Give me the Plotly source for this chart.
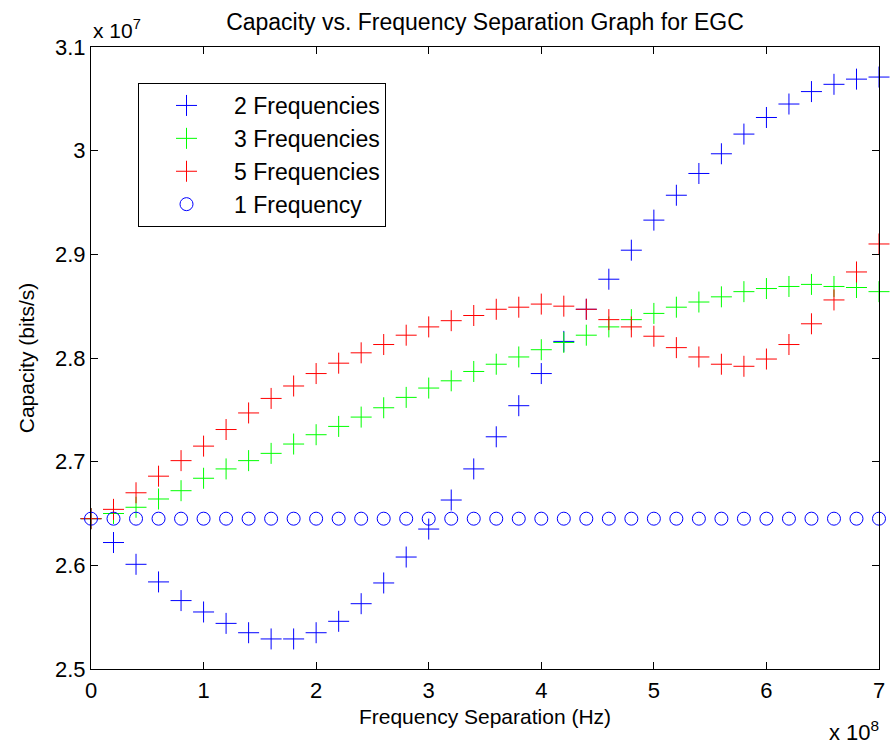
import plotly.graph_objects as go

# Frequency separation, in units of 1e8 Hz
freq_sep = [round(0.2 * i, 1) for i in range(36)]

# Capacity, in units of 1e7 bits/s
cap_2freq = [2.645, 2.622, 2.601, 2.584, 2.566, 2.555, 2.544, 2.535, 2.529, 2.529,
             2.535, 2.546, 2.563, 2.583, 2.608, 2.635, 2.663, 2.693, 2.724, 2.754,
             2.785, 2.816, 2.847, 2.876, 2.904, 2.933, 2.957, 2.978, 2.997, 3.016,
             3.032, 3.045, 3.057, 3.064, 3.069, 3.071]
cap_3freq = [2.645, 2.650, 2.656, 2.664, 2.672, 2.684, 2.693, 2.701, 2.708, 2.717,
             2.726, 2.734, 2.743, 2.752, 2.762, 2.771, 2.778, 2.787, 2.794, 2.801,
             2.808, 2.815, 2.822, 2.830, 2.837, 2.843, 2.849, 2.854, 2.859, 2.864,
             2.867, 2.869, 2.871, 2.869, 2.868, 2.864]
cap_5freq = [2.645, 2.654, 2.670, 2.686, 2.701, 2.715, 2.731, 2.747, 2.761, 2.773,
             2.785, 2.795, 2.805, 2.813, 2.822, 2.830, 2.836, 2.841, 2.847, 2.849,
             2.852, 2.850, 2.847, 2.837, 2.830, 2.821, 2.810, 2.801, 2.794, 2.792,
             2.799, 2.813, 2.833, 2.856, 2.883, 2.910]
cap_1freq = [2.645] * 36

x_ticks = [0, 1, 2, 3, 4, 5, 6, 7]
y_ticks = [2.5, 2.6, 2.7, 2.8, 2.9, 3.0, 3.1]
y_tick_text = ["2.5", "2.6", "2.7", "2.8", "2.9", "3", "3.1"]

FONT = "Liberation Sans, Arial, sans-serif"

fig = go.Figure()
series = [
    ("2 Frequencies", cap_2freq, "#0000ff", "cross-thin", 15),
    ("3 Frequencies", cap_3freq, "#00ff00", "cross-thin", 15),
    ("5 Frequencies", cap_5freq, "#ff0000", "cross-thin", 15),
    ("1 Frequency", cap_1freq, "#0000ff", "circle-open", 13),
]
for name, ys, col, sym, size in series:
    fig.add_trace(go.Scatter(
        x=freq_sep, y=ys, mode="markers", name=name, cliponaxis=False,
        marker=dict(symbol=sym, size=size, color=col, line=dict(color=col, width=1)),
    ))

axis_common = dict(
    showgrid=False, zeroline=False, showline=True, linecolor="black", linewidth=1,
    mirror="ticks", ticks="inside", ticklen=7, tickcolor="black", automargin=False,
    tickfont=dict(family=FONT, size=22, color="black"),
)
fig.update_layout(
    width=890, height=744,
    margin=dict(l=91, r=11, t=47, b=75),
    paper_bgcolor="white", plot_bgcolor="white",
    title=dict(text="Capacity vs. Frequency Separation Graph for EGC",
               x=(91 + 879) / 2 / 890, xanchor="center", y=1 - 22 / 744, yanchor="middle",
               font=dict(family=FONT, size=23, color="black")),
    xaxis=dict(range=[0, 7], tickvals=x_ticks, ticktext=[str(v) for v in x_ticks],
               ticklabelstandoff=2,
               title=dict(text="Frequency Separation (Hz)", standoff=6,
                          font=dict(family=FONT, size=21, color="black")),
               **axis_common),
    yaxis=dict(range=[2.5, 3.1], tickvals=y_ticks, ticktext=y_tick_text,
               title=dict(text="Capacity (bits/s)", standoff=14,
                          font=dict(family=FONT, size=21, color="black")),
               **axis_common),
    legend=dict(x=(138 - 91) / 788, y=(669 - 83) / 622, xanchor="left", yanchor="top",
                bgcolor="white", bordercolor="black", borderwidth=1,
                font=dict(family=FONT, size=23, color="black"),
                itemwidth=85, tracegroupgap=0),
    showlegend=True,
    annotations=[
        dict(text="x 10<sup>7</sup>", xref="paper", yref="paper", x=0, y=1,
             xanchor="left", yanchor="bottom", yshift=3, showarrow=False,
             font=dict(family=FONT, size=21, color="black")),
        dict(text="x 10<sup>8</sup>", xref="paper", yref="paper", x=1, y=0,
             xanchor="right", yanchor="top", yshift=-46, xshift=2, showarrow=False,
             font=dict(family=FONT, size=22, color="black")),
    ],
)

fig.write_html("out.html", config={"displayModeBar": False},
               post_script="document.body.style.margin='0px';")
